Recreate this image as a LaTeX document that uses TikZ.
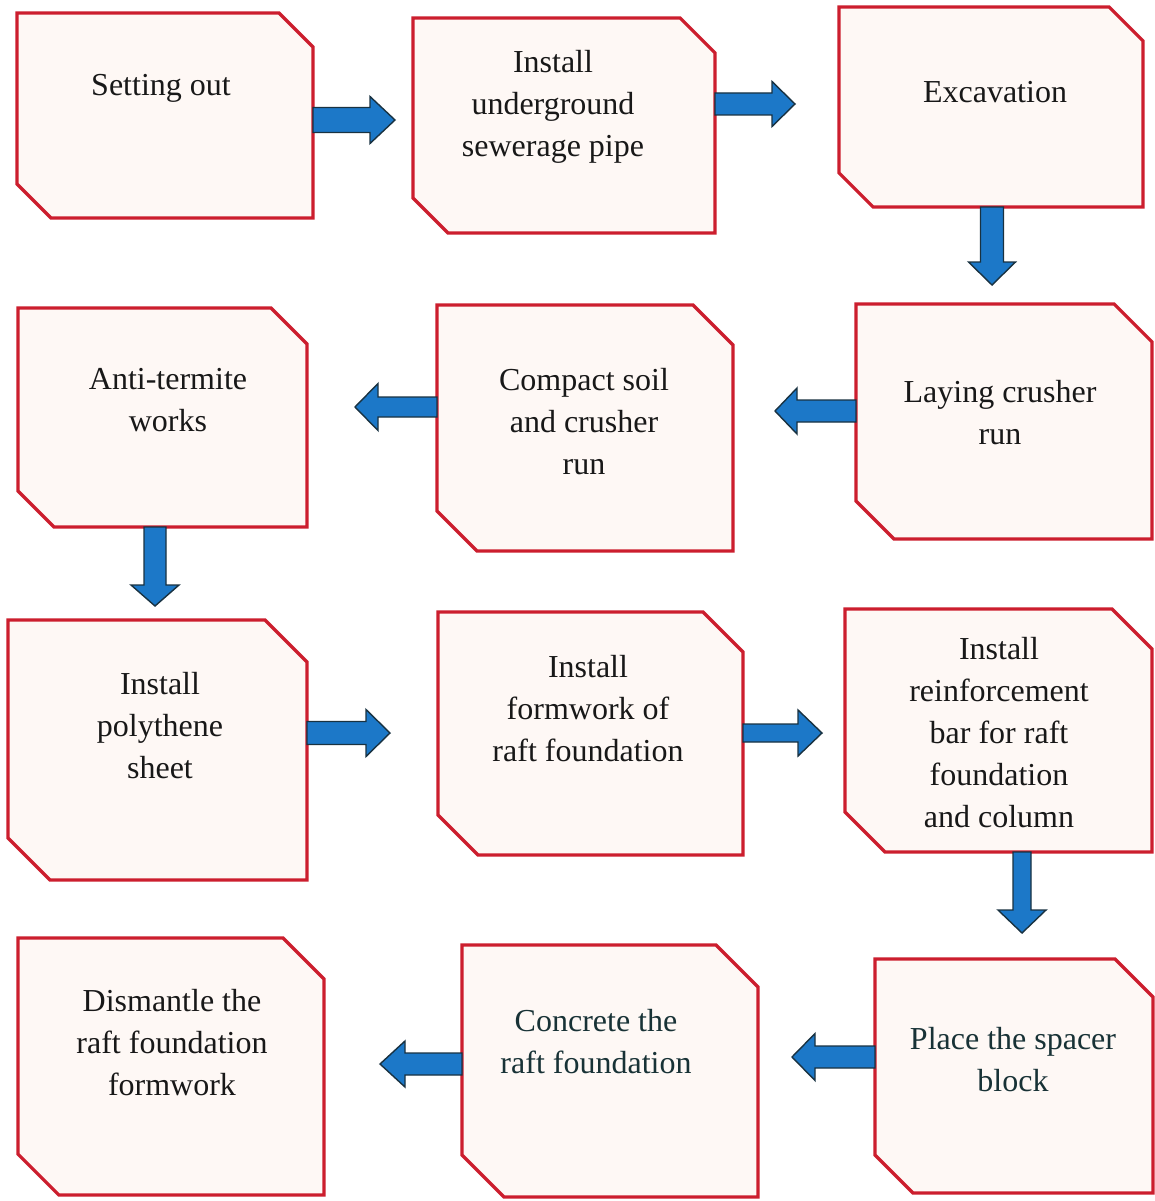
\documentclass[tikz,border=0pt]{standalone}
\usepackage{fontspec}
\setmainfont{Liberation Serif}
\usetikzlibrary{calc}
\definecolor{boxred}{RGB}{204,30,46}
\definecolor{boxfill}{RGB}{254,248,245}
\definecolor{arrowblue}{RGB}{28,120,200}
\definecolor{arrowedge}{RGB}{25,50,65}
\definecolor{txtcol}{RGB}{24,24,24}
\definecolor{txtteal}{RGB}{24,50,54}
\tikzset{
  boxarea/.style={inner sep=0pt, outer sep=0pt, draw=none},
  boxline/.style={draw=boxred, line width=3.2pt, fill=boxfill, line join=miter},
  arrowstyle/.style={draw=arrowedge, line width=1.4pt, fill=arrowblue, line join=miter},
  steptext/.style={align=center, text=txtcol, font=\fontsize{32}{42}\selectfont, inner sep=0pt},
}
% #1 name, #2 x1, #3 y1, #4 x2, #5 y2, #6 cut
\newcommand\cutbox[6]{%
  \node[boxarea, minimum width={(#4-#2)*1pt}, minimum height={(#5-#3)*1pt}] (#1) at ({(#2+#4)/2},{(#3+#5)/2}) {};
  \draw[boxline] (#1.north west) -- ([xshift=-#6pt]#1.north east) -- ([yshift=-#6pt]#1.north east)
     -- (#1.south east) -- ([xshift=#6pt]#1.south west) -- ([yshift=#6pt]#1.south west) -- cycle;
}
% #1 start coordinate, #2 angle, #3 length, #4 shaft half width, #5 head half width, #6 head length
\newcommand\fatarrow[6]{%
  \draw[arrowstyle, shift={(#1)}, rotate=#2] (0,-#4) -- ({#3-#6},-#4) -- ({#3-#6},-#5) -- (#3,0)
     -- ({#3-#6},#5) -- ({#3-#6},#4) -- (0,#4) -- cycle;
}
\begin{document}
\begin{tikzpicture}[x=1pt, y=-1pt]
\fill[white] (0,0) rectangle (1154,1201);
\useasboundingbox (0,0) rectangle (1154,1201);

\cutbox{b1}{17}{13}{313}{218}{34}
\cutbox{b2}{413}{18}{715}{233}{35}
\cutbox{b3}{839}{7}{1143}{207}{34}
\cutbox{b4}{18}{308}{307}{527}{36}
\cutbox{b5}{437}{305}{733}{551}{40}
\cutbox{b6}{856}{304}{1152}{539}{38}
\cutbox{b7}{8}{620}{307}{880}{42}
\cutbox{b8}{438}{612}{743}{855}{40}
\cutbox{b9}{845}{609}{1152}{852}{40}
\cutbox{b10}{18}{938}{324}{1195}{41}
\cutbox{b11}{462}{945}{758}{1197}{42}
\cutbox{b12}{875}{959}{1153}{1193}{38}

\node[steptext] (t1) at (161,88) {Setting out};
\node[steptext] (t2) at (553,107) {Install\\underground\\sewerage pipe};
\node[steptext] (t3) at (995,92) {Excavation};
\node[steptext] (t4) at (168,400) {Anti-termite\\works};
\node[steptext] (t5) at (584,422) {Compact soil\\and crusher\\run};
\node[steptext] (t6) at (1000,413) {Laying crusher\\run};
\node[steptext] (t7) at (160,726) {Install\\polythene\\sheet};
\node[steptext] (t8) at (588,709) {Install\\formwork of\\raft foundation};
\node[steptext] (t9) at (999,733) {Install\\reinforcement\\bar for raft\\foundation\\and column};
\node[steptext] (t10) at (172,1043) {Dismantle the\\raft foundation\\formwork};
\node[steptext, text=txtteal] (t11) at (596,1042) {Concrete the\\raft foundation};
\node[steptext, text=txtteal] (t12) at (1013,1060) {Place the spacer\\block};

\fatarrow{b1.east |- 0,120}{0}{82}{12.5}{23.5}{25}
\fatarrow{b2.east |- 0,104}{0}{80}{11}{22.5}{23}
\fatarrow{b3.south -| 992,0}{-90}{78}{11.5}{23.5}{23}
\fatarrow{b6.west |- 0,411}{180}{81}{11}{23}{22}
\fatarrow{b5.west |- 0,407}{180}{82}{10}{23.5}{23}
\fatarrow{b4.south -| 155,0}{-90}{79}{11}{24}{21}
\fatarrow{b7.east |- 0,733}{0}{83}{11.5}{23.5}{24}
\fatarrow{b8.east |- 0,733}{0}{79}{9}{23}{24}
\fatarrow{b9.south -| 1022,0}{-90}{81}{9}{24}{23}
\fatarrow{b12.west |- 0,1057}{180}{83}{11}{23.5}{23}
\fatarrow{b11.west |- 0,1064}{180}{82}{11}{23}{25}
\end{tikzpicture}
\end{document}
